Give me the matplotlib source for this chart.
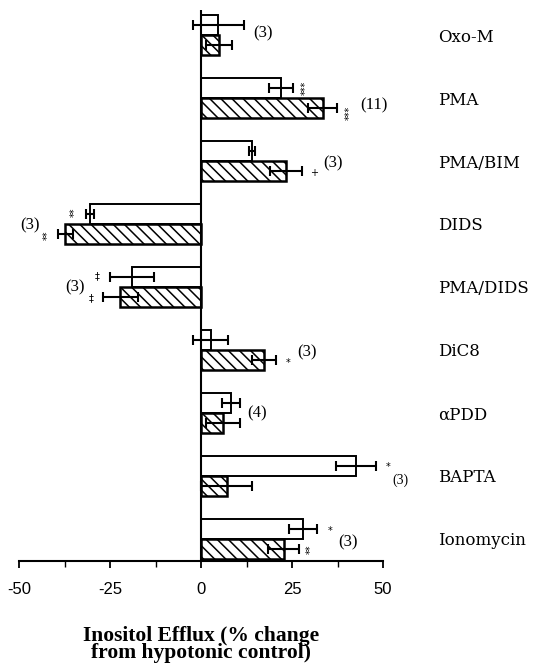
import matplotlib
matplotlib.use("Agg")
import matplotlib.pyplot as plt
import numpy as np

categories = ["Oxo-M", "PMA", "PMA/BIM", "DIDS", "PMA/DIDS", "DiC8", "αPDD", "BAPTA", "Ionomycin"]
open_vals = [4.7, 22.0, 14.0, -30.4, -19.0, 2.7, 8.2, 42.7, 28.0]
open_err = [7.0, 3.3, 0.7, 1.1, 6.0, 4.8, 2.5, 5.5, 3.8]
hatch_vals = [5.0, 33.4, 23.3, -37.3, -22.2, 17.3, 6.0, 7.1, 22.7]
hatch_err = [3.5, 4.0, 4.4, 2.0, 4.8, 3.2, 4.7, 7.0, 4.2]
xticks = [-50, -25, 0, 25, 50]
n_labels = ["(3)", "(11)", "(3)", "(3)", "(3)", "(3)", "(4)", "(3)", "(3)"]

plt.rcParams["axes.unicode_minus"] = False
plt.rcParams["hatch.linewidth"] = 1.1

W, H = 540, 664
fig = plt.figure(figsize=(W / 100, H / 100), dpi=100)
ax = fig.add_axes([19 / W, 1 - 561 / H, 364 / W, 551 / H])

y = np.arange(len(categories))
bh = 0.32
ax.barh(y - bh / 2, open_vals, height=bh, color="white", edgecolor="black", linewidth=1.4, zorder=2)
ax.barh(y + bh / 2, hatch_vals, height=bh, color="white", edgecolor="black", linewidth=1.8,
        hatch="\\\\\\", zorder=2)
ax.errorbar(open_vals, y - bh / 2, xerr=open_err, fmt="none", ecolor="black", elinewidth=1.5,
            capsize=3.5, capthick=1.5, zorder=3)
ax.errorbar(hatch_vals, y + bh / 2, xerr=hatch_err, fmt="none", ecolor="black", elinewidth=1.5,
            capsize=3.5, capthick=1.5, zorder=3)

ax.axvline(0, color="black", lw=1.5, zorder=4)
ax.set_xlim(-50, 50)
ax.set_ylim(8.35, -0.4)
for s in ["top", "right", "left"]:
    ax.spines[s].set_visible(False)
ax.spines["bottom"].set_linewidth(1.5)
ax.set_yticks([])
ax.set_xticks(xticks)
ax.set_xticks(np.arange(-50, 51, 12.5), minor=True)
ax.tick_params(axis="x", which="major", direction="out", length=5, width=1.3, pad=10,
               labelsize=12)
ax.tick_params(axis="x", which="minor", direction="out", length=4, width=1.0)
for lab in ax.get_xticklabels():
    lab.set_fontfamily("Liberation Sans")

ax.set_xlabel("Inositol Efflux (% change\nfrom hypotonic control)", fontfamily="Liberation Serif",
              fontweight="bold", fontsize=15.5, labelpad=21, linespacing=0.8)

for i, c in enumerate(categories):
    ax.text(65.2, i + 0.03, c, fontfamily="DejaVu Serif", fontsize=12, va="center", ha="left",
            clip_on=False)

ser = dict(fontfamily=["Liberation Serif", "DejaVu Serif"], fontsize=12, clip_on=False,
           va="center", ha="left")
star = dict(fontfamily=["DejaVu Sans"], fontsize=7, clip_on=False, ha="center", va="center")

# n labels
ax.text(14.3, -0.03, n_labels[0], **ser)
ax.text(43.7, 1.11, n_labels[1], **ser)
ax.text(33.5, 2.03, n_labels[2], **ser)
ax.text(-49.7, 3.02, n_labels[3], **ser)
ax.text(-37.4, 4.0, n_labels[4], **ser)
ax.text(26.4, 5.03, n_labels[5], **ser)
ax.text(12.6, 6.0, n_labels[6], **ser)
ax.text(52.7, 7.06, n_labels[7], fontfamily="Liberation Serif", fontsize=10, clip_on=False,
        va="center", ha="left")
ax.text(37.6, 8.05, n_labels[8], **ser)

# significance marks
ax.text(28.8, 0.84, "***", rotation=90, **star)
ax.text(40.9, 1.24, "***", rotation=90, **star)
ax.text(31.0, 2.19, "+", **star)
ax.text(-34.6, 2.81, "**", rotation=90, **star)
ax.text(-42.0, 3.17, "**", rotation=90, **star)
ax.text(-28.6, 3.83, "‡", **star)
ax.text(-30.2, 4.17, "‡", **star)
ax.text(23.9, 5.2, "*", **star)
ax.text(51.4, 6.86, "*", **star)
ax.text(35.4, 7.87, "*", **star)
ax.text(30.2, 8.17, "**", rotation=90, **star)

fig.savefig("out.png", dpi=100)
